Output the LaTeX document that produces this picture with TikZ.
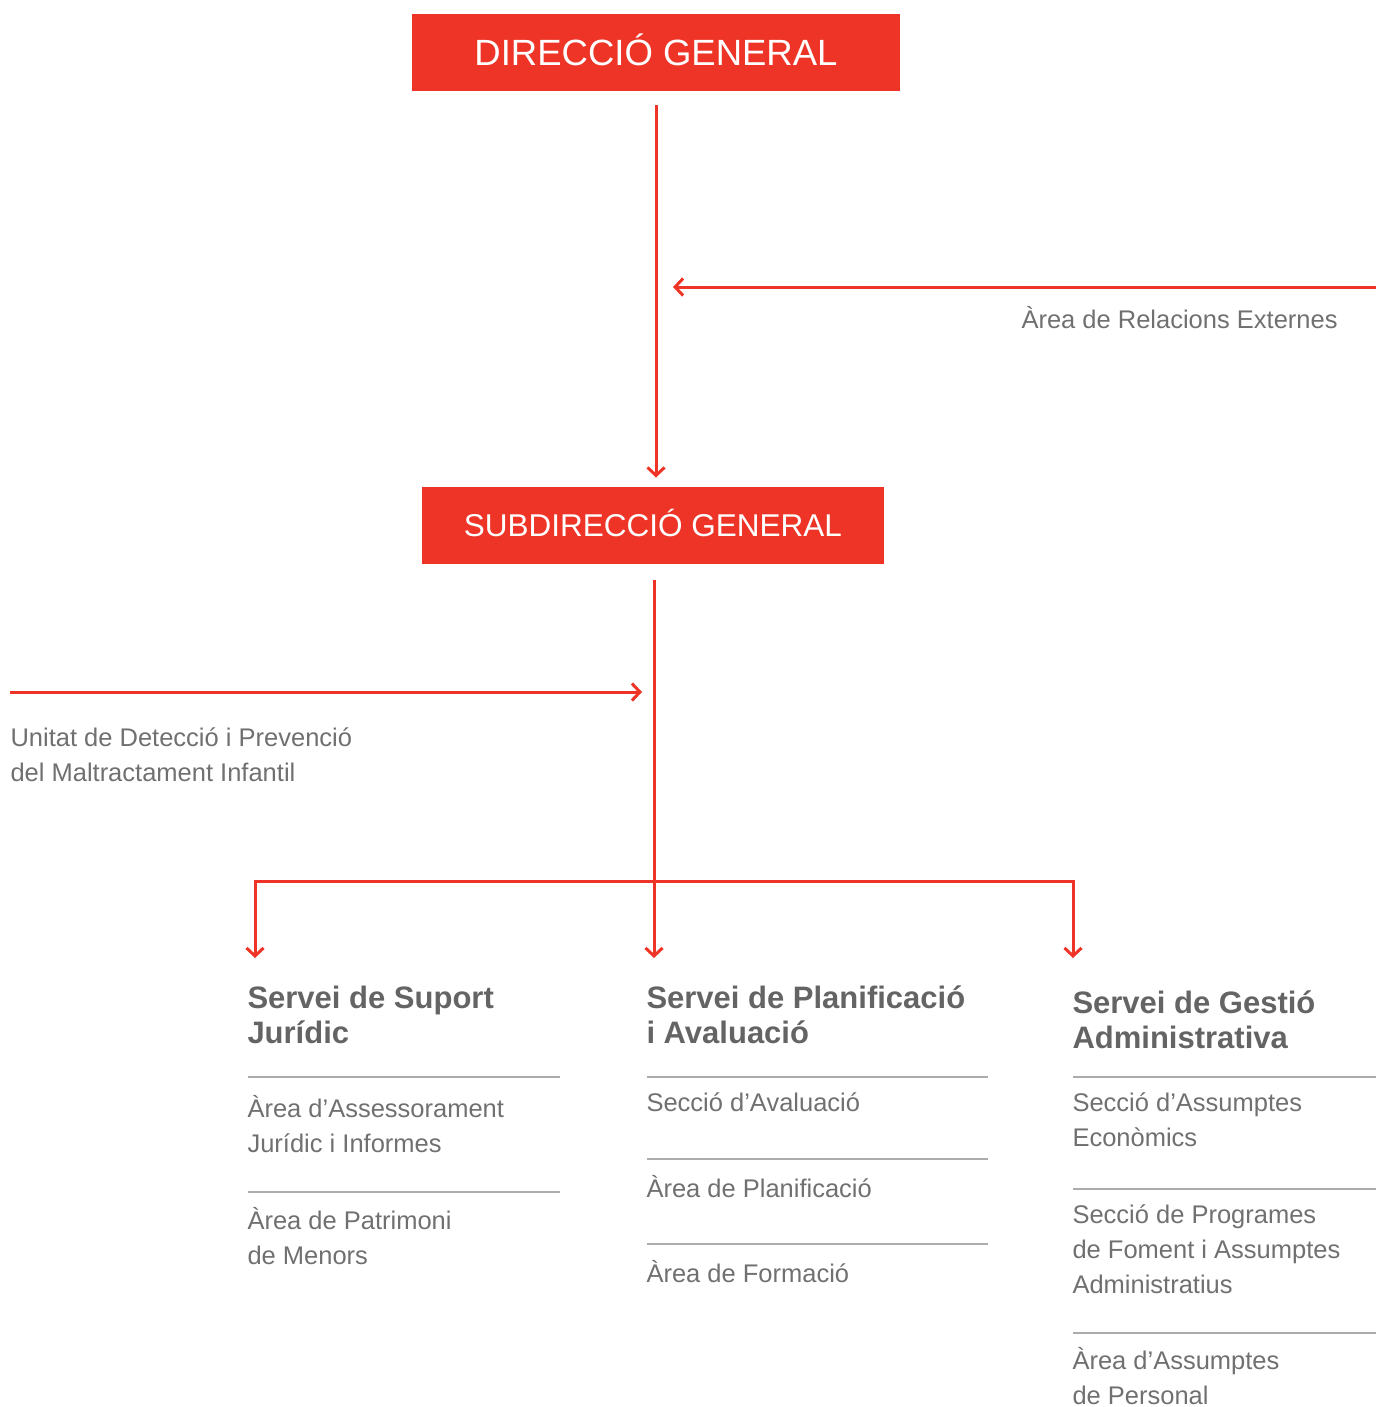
\documentclass[tikz,border=0pt]{standalone}
\usepackage{fontspec}
\setmainfont{Liberation Sans}
\usetikzlibrary{arrows.meta}
\definecolor{orgred}{RGB}{238,52,39}
\definecolor{headgray}{RGB}{100,100,100}
\definecolor{itemgray}{RGB}{112,112,112}
\definecolor{rulegray}{RGB}{172,172,172}
\tikzset{every picture/.style={line width=3pt},
  barb/.tip={Straight Barb[length=8pt,width=17pt]}}

\begin{document}
\begin{tikzpicture}[x=1pt,y=1pt,yscale=-1,xscale=1,
  redbox/.style={fill=orgred,text=white,inner sep=0pt,minimum height=77pt,text depth=0pt},
  link/.style={draw=orgred,line width=3pt,-barb},
  side/.style={text=itemgray,font=\fontsize{25.5}{35}\selectfont,anchor=north west,inner sep=0pt,align=left},
  head/.style={text=headgray,font=\bfseries\fontsize{31}{35}\selectfont,anchor=north west,inner sep=0pt,align=left},
  rule/.style={draw=rulegray,line width=2pt}]
\useasboundingbox (0,0) rectangle (1376,1407);

%Boxes
\node[redbox,minimum width=488pt,text height=26pt,font=\fontsize{36.5}{40}\selectfont] (dg) at (656,52.5) {DIRECCIÓ GENERAL};
\node[redbox,minimum width=462pt,text height=22.5pt,font=\fontsize{31.5}{36}\selectfont] (sg) at (653,525.5) {SUBDIRECCIÓ GENERAL};

%Free ends of the connectors
\coordinate (relR) at (1376,287);
\coordinate (relT) at (673,287);
\coordinate (udL) at (10,692);
\coordinate (udR) at (642,692);
\coordinate (fork) at (654,881);
\coordinate (a1) at (255,958);
\coordinate (a2) at (654,958);
\coordinate (a3) at (1073,958);

%Connectors
\draw[link,shorten <=13pt,shorten >=8pt] (dg.south) -- (dg.south |- sg.north);
\draw[link] (relR) -- (relT);
\draw[link,shorten <=14pt] (sg.south -| a2) -- (a2);
\draw[link] (udL) -- (udR);
\draw[link,barb-barb,line join=miter] (a1) -- (a1 |- fork) -- (a3 |- fork) -- (a3);

% Text Node
\node[side] (rel) at (1020,302) {\strut Àrea de Relacions Externes};
% Text Node
\node[side] (unitat) at (9,720) {\strut Unitat de Detecció i Prevenció\\del Maltractament Infantil};

% Text Node
\node[head] (juridic) at (246,982.5) {\strut Servei de Suport\\Jurídic};
% Text Node
\node[head] (planif) at (645,982.5) {\strut Servei de Planificació\\i Avaluació};
% Text Node
\node[head] (gestio) at (1071,987.5) {\strut Servei de Gestió\\Administrativa};

%Rules
\draw[rule] (248,1077) -- (560,1077);
\draw[rule] (248,1192) -- (560,1192);
\draw[rule] (647,1077) -- (988,1077);
\draw[rule] (647,1159) -- (988,1159);
\draw[rule] (647,1244) -- (988,1244);
\draw[rule] (1073,1077) -- (1376,1077);
\draw[rule] (1073,1189) -- (1376,1189);
\draw[rule] (1073,1333) -- (1376,1333);

% Text Node
\node[side] (assess) at (246,1091) {\strut Àrea d’Assessorament\\Jurídic i Informes};
% Text Node
\node[side] (patrim) at (246,1203) {\strut Àrea de Patrimoni\\de Menors};
% Text Node
\node[side] (aval) at (645,1085) {\strut Secció d’Avaluació};
% Text Node
\node[side] (planarea) at (645,1171) {\strut Àrea de Planificació};
% Text Node
\node[side] (formacio) at (645,1256) {\strut Àrea de Formació};
% Text Node
\node[side] (econ) at (1071,1085) {\strut Secció d’Assumptes\\Econòmics};
% Text Node
\node[side] (foment) at (1071,1197) {\strut Secció de Programes\\de Foment i Assumptes\\Administratius};
% Text Node
\node[side] (personal) at (1071,1343.5) {\strut Àrea d’Assumptes\\de Personal};

\end{tikzpicture}
\end{document}
